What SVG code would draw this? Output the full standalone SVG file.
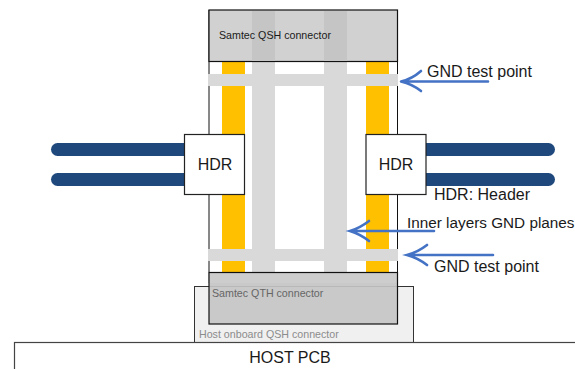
<svg xmlns="http://www.w3.org/2000/svg" width="575" height="369" viewBox="0 0 575 369">
<style>
text{font-family:"Liberation Sans",Arial,sans-serif;fill:#1a1a1a}
.l{font-size:16px}
.s{font-size:10.67px}
.y{fill:#ffc000}
.g{fill:#d9d9d9}
.bar{fill:#1f497d}
.box{fill:#fff;stroke:#222;stroke-width:1.2}
.arrow{fill:none;stroke:#4472c4;stroke-width:2.6;stroke-linecap:round}
</style>
<rect width="575" height="369" fill="#fff"/>
<g id="module">
<path d="M209 10V272M397.500 10V272" fill="none" stroke="#111" stroke-width="1"/>
<rect class="y" x="222" y="61" width="23" height="222"/>
<rect class="y" x="366" y="61" width="23" height="222"/>
<rect class="g" x="252" y="61" width="23" height="222"/>
<rect class="g" x="324" y="61" width="23" height="222"/>
<rect class="g" x="208" y="74" width="190" height="12"/>
<rect class="g" x="208" y="249" width="190" height="12"/>
<rect class="g" x="208" y="272" width="190" height="11"/>
</g>
<g id="host-qsh"><rect x="194.500" y="286.500" width="219" height="56.500" fill="#f0f0f0" stroke="#333" stroke-width="1"/><text class="s" x="199" y="338" style="fill:#8c8c8c">Host onboard QSH connector</text></g>
<g id="host-pcb"><rect x="14.500" y="342.500" width="570" height="40" fill="#fff" stroke="#444" stroke-width="1.200"/><text class="l" x="290" y="363" text-anchor="middle">HOST PCB</text></g>
<g id="samtec-qsh"><rect x="209" y="10" width="188.500" height="51.500" fill="#d1d1d1" stroke="#111" stroke-width="1.200"/><rect x="252" y="11" width="23" height="50" fill="#c5c5c5"/><rect x="324" y="11" width="23" height="50" fill="#c5c5c5"/><text class="s" x="219" y="39">Samtec QSH connector</text></g>
<g id="samtec-qth">
<rect x="209" y="272.500" width="188.500" height="10.500" fill="#c8c8c8" fill-opacity=".7"/>
<rect x="209" y="283" width="188.500" height="41" fill="#c9c9c9"/>
<path d="M209 286.500H397.500" stroke="#b8b8b8" stroke-width="1" fill="none"/>
<rect x="209" y="272.500" width="188.500" height="51.500" fill="none" stroke="#111" stroke-width="1.200"/>
<text class="s" x="212" y="297" style="fill:#666">Samtec QTH connector</text></g>
<g id="connectors">
<rect class="bar" x="51" y="143" width="140" height="13" rx="6.500"/>
<rect class="bar" x="51" y="173" width="140" height="13" rx="6.500"/>
<rect class="bar" x="420" y="143" width="135" height="13" rx="6.500"/>
<rect class="bar" x="420" y="173" width="135" height="13" rx="6.500"/>
<path class="arrow" d="M488 81.500H401M421 71Q412 79 401 81.500Q412 84 421 91"/>
<path class="arrow" d="M434 231H350M369 221Q360 228 350 231Q360 234 369 241"/>
<path class="arrow" d="M493 255H407M427 245Q418 252 407 255Q418 258 427 265"/>
</g>
<g id="hdr-left"><rect class="box" x="184.500" y="134.500" width="60" height="60"/><text class="l" x="215" y="170" text-anchor="middle">HDR</text></g>
<g id="hdr-right"><rect class="box" x="366" y="134.500" width="60" height="60"/><text class="l" x="396" y="170" text-anchor="middle">HDR</text></g>
<g id="labels">
<text class="l" x="427" y="77">GND test point</text>
<text class="l" x="434" y="200">HDR: Header</text>
<text class="l" x="407" y="228" style="font-size:15.3px">Inner layers GND planes</text>
<text class="l" x="434" y="272">GND test point</text>
</g>
</svg>
